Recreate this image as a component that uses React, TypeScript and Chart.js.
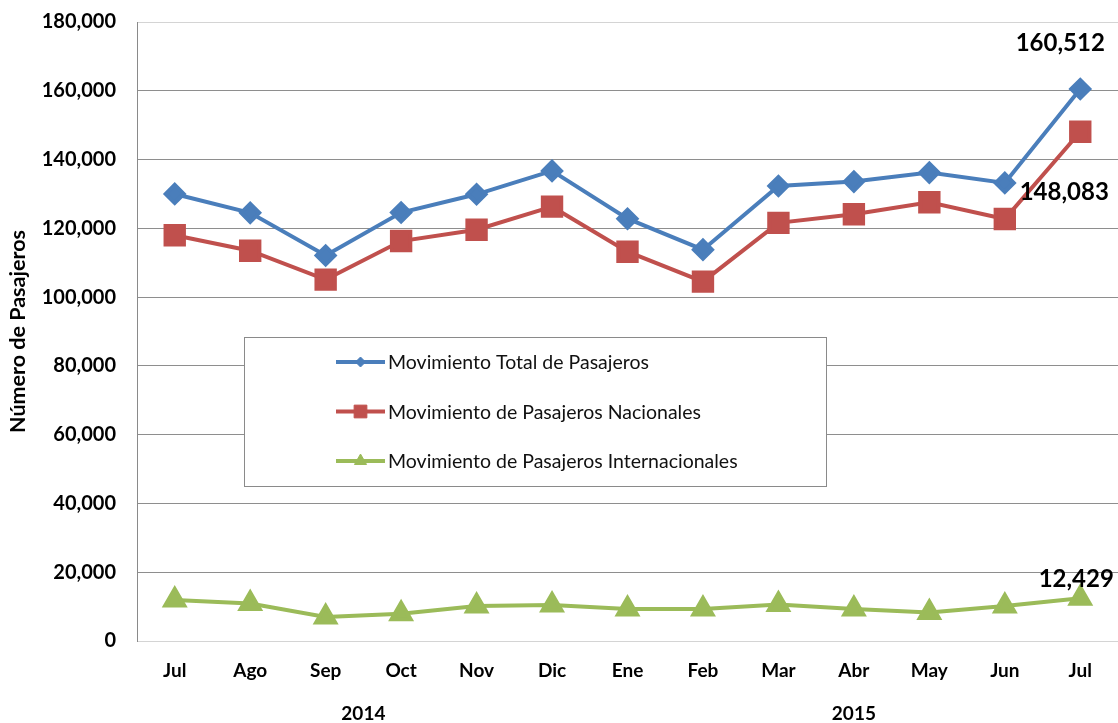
import React, { useEffect, useRef } from 'react';
import { Chart, registerables } from 'chart.js';
import { drawPoint } from 'chart.js/helpers';

Chart.register(...registerables);

// ---- Data ----
const months = ['Jul', 'Ago', 'Sep', 'Oct', 'Nov', 'Dic', 'Ene', 'Feb', 'Mar', 'Abr', 'May', 'Jun', 'Jul'];
const totalPasajeros = [130000, 124500, 112100, 124600, 129900, 136700, 122800, 113800, 132300, 133600, 136200, 133200, 160512];
const pasajerosNacionales = [118000, 113500, 105100, 116300, 119600, 126300, 113200, 104500, 121600, 124100, 127600, 122700, 148083];
const pasajerosInternacionales = [11900, 10900, 7000, 7900, 10200, 10500, 9300, 9300, 10600, 9300, 8300, 10200, 12429];
const seriesNames = [
  'Movimiento Total de Pasajeros',
  'Movimiento de Pasajeros Nacionales',
  'Movimiento de Pasajeros Internacionales',
];
const years = ['2014', '2015'];
const yearFirstMonth = [0, 6];
const yearLastMonth = [5, 12];
const yMin = 0;
const yMax = 180000;
const yStep = 20000;
const yAxisTitle = 'Número de Pasajeros';

// ---- Styles ----
const FONT = 'Lato, "Open Sans", sans-serif';
const BLUE = '#4A7EBB';
const RED = '#C0504D';
const GREEN = '#9BBB59';

const fmt = (v: number) => v.toLocaleString('en-US');

const overlayPlugin = {
  id: 'overlay',
  afterDraw(chart: any) {
    const { ctx, scales } = chart;
    const x = scales.x;
    ctx.save();

    // Year group labels
    ctx.font = `bold 19px ${FONT}`;
    ctx.fillStyle = '#000';
    ctx.textAlign = 'center';
    ctx.textBaseline = 'middle';
    years.forEach((yr, i) => {
      const cx = (x.getPixelForValue(yearFirstMonth[i]) + x.getPixelForValue(yearLastMonth[i])) / 2;
      ctx.fillText(yr, cx, 714);
    });

    // Legend box
    const bx = 244, by = 337, bw = 582, bh = 149;
    ctx.fillStyle = '#fff';
    ctx.fillRect(bx, by, bw, bh);
    ctx.strokeStyle = '#8a8a8a';
    ctx.lineWidth = 1;
    ctx.strokeRect(bx + 0.5, by + 0.5, bw, bh);
    const legendRadii = [5, 9, 7];
    chart.data.datasets.forEach((ds: any, i: number) => {
      const ly = 362 + i * 49.5;
      ctx.strokeStyle = ds.borderColor;
      ctx.lineWidth = 4;
      ctx.beginPath();
      ctx.moveTo(336, ly);
      ctx.lineTo(385, ly);
      ctx.stroke();
      ctx.fillStyle = ds.borderColor;
      ctx.strokeStyle = ds.borderColor;
      ctx.lineWidth = 1;
      drawPoint(ctx, { pointStyle: ds.pointStyle, rotation: 0, radius: legendRadii[i], borderWidth: 1 }, 360.5, ly);
      ctx.fillStyle = '#111';
      ctx.font = `19.5px ${FONT}`;
      ctx.textAlign = 'left';
      ctx.textBaseline = 'middle';
      ctx.fillText(ds.label, 388, ly + 1);
    });

    // Value labels on the last point of each series
    const offsets = [[-20, -46], [-16, 61], [-4, -19]];
    ctx.font = `bold 24px ${FONT}`;
    ctx.fillStyle = '#000';
    ctx.textAlign = 'center';
    ctx.textBaseline = 'middle';
    chart.data.datasets.forEach((ds: any, i: number) => {
      const meta = chart.getDatasetMeta(i);
      const last = meta.data.length - 1;
      const pt = meta.data[last];
      ctx.fillText(fmt(ds.data[last]), pt.x + offsets[i][0], pt.y + offsets[i][1]);
    });
    ctx.restore();
  },
};

export default function App() {
  const canvasRef = useRef<HTMLCanvasElement | null>(null);

  useEffect(() => {
    if (!canvasRef.current) return;
    const chart = new Chart(canvasRef.current, {
      type: 'line',
      data: {
        labels: months,
        datasets: [
          {
            label: seriesNames[0],
            data: totalPasajeros,
            borderColor: BLUE,
            backgroundColor: BLUE,
            pointBackgroundColor: BLUE,
            pointBorderColor: BLUE,
            pointStyle: 'rectRot',
            pointRadius: 9,
            borderWidth: 4,
            tension: 0,
          },
          {
            label: seriesNames[1],
            data: pasajerosNacionales,
            borderColor: RED,
            backgroundColor: RED,
            pointBackgroundColor: RED,
            pointBorderColor: RED,
            pointStyle: 'rect',
            pointRadius: 13,
            borderWidth: 4,
            tension: 0,
          },
          {
            label: seriesNames[2],
            data: pasajerosInternacionales,
            borderColor: GREEN,
            backgroundColor: GREEN,
            pointBackgroundColor: GREEN,
            pointBorderColor: GREEN,
            pointStyle: 'triangle',
            pointRadius: 11,
            borderWidth: 4,
            tension: 0,
          },
        ],
      },
      options: {
        responsive: false,
        animation: false,
        events: [],
        layout: { autoPadding: false, padding: { top: 22, right: 0, bottom: 0, left: 0 } },
        plugins: {
          legend: { display: false },
          tooltip: { enabled: false },
        },
        scales: {
          x: {
            type: 'category',
            offset: true,
            grid: { display: false, drawTicks: false },
            border: { display: true, color: '#d4d4d4', width: 1 },
            ticks: {
              color: '#000',
              font: { family: FONT, size: 19, weight: 'bold' },
              padding: 18,
              maxRotation: 0,
              autoSkip: false,
            },
            afterFit: (scale: any) => {
              scale.height = 82;
              scale.paddingLeft = 0;
              scale.paddingRight = 0;
            },
          },
          y: {
            min: yMin,
            max: yMax,
            grid: {
              drawTicks: false,
              color: (c: any) => {
                const v = c.tick ? c.tick.value : 0;
                return v === yMin || v === yMax ? '#d4d4d4' : '#8e8e8e';
              },
              lineWidth: 1,
            },
            border: { display: true, color: '#8a8a8a', width: 1 },
            ticks: {
              stepSize: yStep,
              color: '#000',
              font: { family: FONT, size: 20, weight: 'bold' },
              padding: 21,
              callback: (v: any) => fmt(Number(v)),
            },
            title: {
              display: true,
              text: yAxisTitle,
              color: '#000',
              font: { family: FONT, size: 21.5, weight: 'bold' },
              padding: { top: 5, bottom: 0 },
            },
            afterFit: (scale: any) => {
              scale.width = 137;
              scale.paddingTop = 0;
              scale.paddingBottom = 0;
            },
          },
        },
      },
      plugins: [overlayPlugin],
    });
    return () => chart.destroy();
  }, []);

  return (
    <div style={{ position: 'absolute', left: 0, top: 0, width: 1118, height: 723, background: '#fff' }}>
      <canvas ref={canvasRef} width={1118} height={723} style={{ display: 'block' }} />
    </div>
  );
}
